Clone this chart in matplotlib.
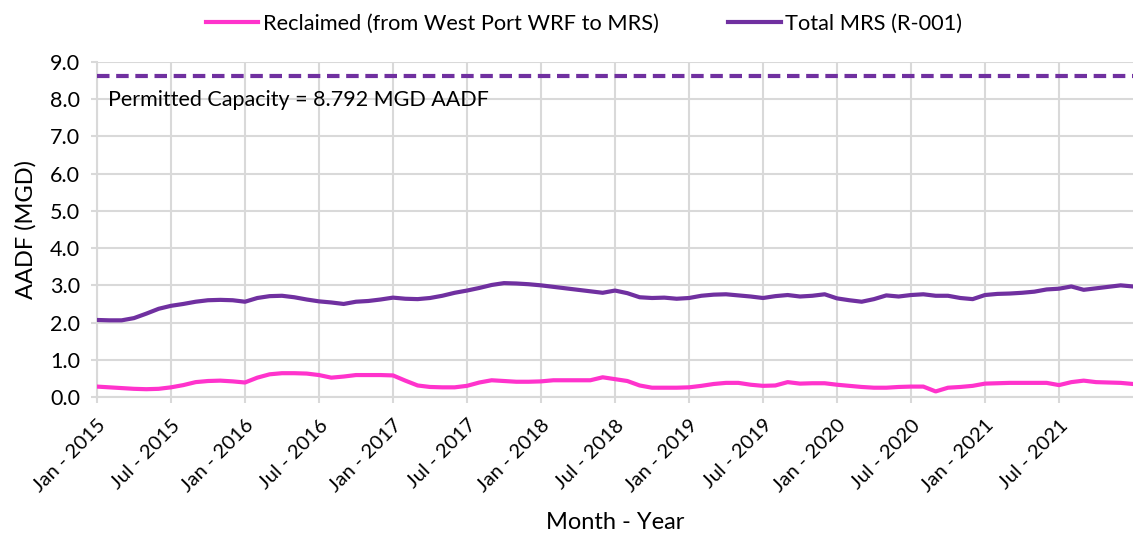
import numpy as np
import matplotlib
matplotlib.use("Agg")
import matplotlib.pyplot as plt

plt.rcParams['font.family'] = ['Lato', 'DejaVu Sans']

# monthly values, Jan 2015 .. Jan 2022
total_mrs = [2.07, 2.06, 2.06, 2.12, 2.24, 2.37, 2.45, 2.50, 2.56, 2.60, 2.61, 2.60,
             2.56, 2.66, 2.71, 2.72, 2.68, 2.62, 2.57, 2.54, 2.50, 2.56, 2.58, 2.62,
             2.67, 2.64, 2.63, 2.66, 2.72, 2.80, 2.86, 2.93, 3.01, 3.06, 3.05, 3.03,
             3.00, 2.96, 2.92, 2.88, 2.84, 2.80, 2.86, 2.79, 2.68, 2.66, 2.67, 2.64,
             2.66, 2.72, 2.75, 2.76, 2.73, 2.70, 2.66, 2.71, 2.74, 2.70, 2.72, 2.76,
             2.65, 2.60, 2.56, 2.63, 2.73, 2.70, 2.74, 2.76, 2.72, 2.72, 2.66, 2.63,
             2.74, 2.77, 2.78, 2.80, 2.83, 2.89, 2.91, 2.97, 2.88, 2.92, 2.96, 3.00,
             2.97]
reclaimed = [0.28, 0.26, 0.24, 0.22, 0.21, 0.22, 0.26, 0.32, 0.40, 0.43, 0.44, 0.42,
             0.39, 0.52, 0.61, 0.64, 0.64, 0.63, 0.59, 0.52, 0.55, 0.59, 0.59, 0.59,
             0.58, 0.44, 0.31, 0.27, 0.26, 0.26, 0.30, 0.39, 0.45, 0.43, 0.41, 0.41,
             0.42, 0.45, 0.45, 0.45, 0.45, 0.53, 0.48, 0.43, 0.31, 0.25, 0.25, 0.25,
             0.26, 0.30, 0.35, 0.38, 0.38, 0.33, 0.30, 0.31, 0.40, 0.36, 0.37, 0.37,
             0.33, 0.30, 0.27, 0.25, 0.25, 0.27, 0.28, 0.28, 0.15, 0.25, 0.27, 0.30,
             0.36, 0.37, 0.38, 0.38, 0.38, 0.38, 0.32, 0.40, 0.44, 0.40, 0.39, 0.38,
             0.35]
capacity_line = 8.62
tick_labels = ['Jan - 2015', 'Jul - 2015', 'Jan - 2016', 'Jul - 2016', 'Jan - 2017',
               'Jul - 2017', 'Jan - 2018', 'Jul - 2018', 'Jan - 2019', 'Jul - 2019',
               'Jan - 2020', 'Jul - 2020', 'Jan - 2021', 'Jul - 2021']

months = np.arange(len(total_mrs))

fig = plt.figure(figsize=(11.33, 5.36), dpi=100)
ax = fig.add_axes([0.0856, 0.2593, 0.9144, 0.625])

grid_c = '#D9D9D9'
ax.plot(months, reclaimed, color='#FF33CC', lw=3, label='Reclaimed (from West Port WRF to MRS)', zorder=3)
ax.plot(months, total_mrs, color='#7030A0', lw=3, label='Total MRS (R-001)', zorder=3)
ax.axhline(capacity_line, color='#7030A0', lw=3, ls=(0, (3, 1.6)), zorder=3)
ax.text(0.011, 0.888, 'Permitted Capacity = 8.792 MGD AADF', transform=ax.transAxes,
        fontsize=15.5, va='center', ha='left')

ax.set_xlim(0, 84)
ax.set_ylim(0, 9)
ax.set_yticks(np.arange(0, 9.1, 1.0))
ax.set_yticklabels(['%.1f' % v for v in np.arange(0, 9.1, 1.0)], fontsize=15.5)
ax.set_xticks(np.arange(0, 84, 6))
ax.set_xticklabels(tick_labels, rotation=45, ha='right', rotation_mode='anchor', fontsize=14.5)
ax.grid(True, color=grid_c, lw=1.5)
ax.set_axisbelow(True)
for s in ['top', 'right']:
    ax.spines[s].set_visible(False)
for s in ['left', 'bottom']:
    ax.spines[s].set_color(grid_c)
    ax.spines[s].set_linewidth(1.5)
ax.tick_params(axis='both', color=grid_c, length=4, width=1.5)
ax.tick_params(axis='x', pad=10)
ax.tick_params(axis='y', pad=8)

ax.set_ylabel('AADF (MGD)', fontsize=17, labelpad=10)
ax.set_xlabel('Month - Year', fontsize=17, labelpad=12)

ax.legend(loc='center', bbox_to_anchor=(0.47, 1.115), ncol=2, frameon=False,
          fontsize=15.7, handlelength=2.4, handletextpad=0.2, columnspacing=3.2)

fig.savefig('out.png', dpi=100)
